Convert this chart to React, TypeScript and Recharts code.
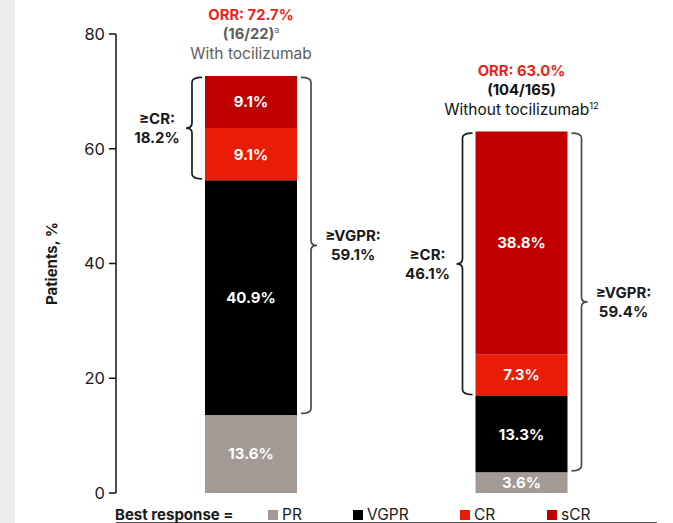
import { BarChart, Bar, XAxis, YAxis, LabelList, Rectangle } from 'recharts';

const groups = ['With tocilizumab', 'Without tocilizumab'];
const prValues = [13.6, 3.6];
const vgprValues = [40.9, 13.3];
const crValues = [9.1, 7.3];
const scrValues = [9.1, 38.8];
const orrLabels = ['ORR: 72.7%', 'ORR: 63.0%'];
const countLabels = ['(16/22)', '(104/165)'];
const countNotes = ['a', ''];
const groupNotes = ['', '12'];
const crTotals = ['18.2%', '46.1%'];
const vgprTotals = ['59.1%', '59.4%'];
const yTicks = [0, 20, 40, 60, 80];
const frameTicks = [0, 1, 2];
const legendLabels = ['PR', 'VGPR', 'CR', 'sCR'];

const COLORS = {
    pr: '#a39a95',
    vgpr: '#000000',
    cr: '#e91c07',
    scr: '#c00000',
};
const legendColors = [COLORS.pr, COLORS.vgpr, COLORS.cr, COLORS.scr];
const FONT = 'Inter, "Noto Sans", sans-serif';

const data = groups.map((group, i) => ({
    group,
    pr: prValues[i],
    vgpr: vgprValues[i],
    cr: crValues[i],
    scr: scrValues[i],
}));

// curly brace, dir -1 = tip points left, 1 = tip points right
const bracePath = (sx: number, y1: number, y2: number, dir: number) => {
    const hx = sx - dir * 10;
    const tx = sx + dir * 6;
    const r = 5;
    const ym = (y1 + y2) / 2;
    return `M${hx},${y1} Q${sx},${y1} ${sx},${y1 + r} L${sx},${ym - r} Q${sx},${ym} ${tx},${ym} Q${sx},${ym} ${sx},${ym + r} L${sx},${y2 - r} Q${sx},${y2} ${hx},${y2}`;
};

// top segment: draws the bar plus the headers and brackets for its column
function TopSegment(props: any) {
    const { x, y, width, height, fill, index, payload } = props;
    const row = payload;
    const total = row.pr + row.vgpr + row.cr + row.scr;
    const ppu = height / row.scr;
    const base = y + total * ppu;
    const yAt = (v: number) => base - v * ppu;

    const cx = x + width / 2;
    const crTop = yAt(total) + 1.5;
    const crBottom = yAt(row.pr + row.vgpr) - 1.5;
    const vTop = yAt(total) + 1.5;
    const vBottom = yAt(row.pr) - 1.5;
    const leftSpine = x - 13;
    const rightSpine = x + width + 14;
    const crMid = (crTop + crBottom) / 2;
    const vMid = (vTop + vBottom) / 2;
    const headColor = index === 0 ? '#5e5e5e' : '#111';

    return (
        <g>
            <Rectangle x={x} y={y} width={width} height={height} fill={fill} />
            <g fontFamily={FONT} textAnchor="middle" dominantBaseline="central">
                <text x={cx} y={y - 61} fontSize={14.8} fontWeight={700} fill="#e8251a">
                    {orrLabels[index]}
                </text>
                <text x={cx} y={y - 41.5} fontSize={14.8} fontWeight={700} fill={headColor}>
                    {countLabels[index]}
                    {countNotes[index] && (
                        <tspan fontSize={9} fontWeight={400} dy={-5}>{countNotes[index]}</tspan>
                    )}
                </text>
                <text x={cx} y={y - 22} fontSize={15.5} fill={headColor}>
                    {groups[index]}
                    {groupNotes[index] && (
                        <tspan fontSize={9.5} dy={-5}>{groupNotes[index]}</tspan>
                    )}
                </text>

                <text x={x - 48} y={crMid - 9.5} fontSize={15} fontWeight={700} fill="#1a1a1a">≥CR:</text>
                <text x={x - 48} y={crMid + 9.5} fontSize={15} fontWeight={700} fill="#1a1a1a">{crTotals[index]}</text>
                <text x={x + width + 56} y={vMid - 9.5} fontSize={15} fontWeight={700} fill="#1a1a1a">≥VGPR:</text>
                <text x={x + width + 56} y={vMid + 9.5} fontSize={15} fontWeight={700} fill="#1a1a1a">{vgprTotals[index]}</text>
            </g>
            <path d={bracePath(leftSpine, crTop, crBottom, -1)} fill="none" stroke="#1a1a1a" strokeWidth={1.7} />
            <path d={bracePath(rightSpine, vTop, vBottom, 1)} fill="none" stroke="#4a4a4a" strokeWidth={1.7} />
        </g>
    );
}

const segLabel = {
    position: 'center' as const,
    fill: '#ffffff',
    fontSize: 15,
    fontWeight: 700,
    fontFamily: FONT,
    formatter: (v: any) => `${Number(v).toFixed(1)}%`,
};

const legendLeft = [268, 353, 460, 547];

export default function App() {
    return (
        <div style={{ position: 'absolute', left: 0, top: 0, width: 673, height: 523, background: '#fff', overflow: 'hidden' }}>
            <div style={{ position: 'absolute', left: 0, top: 0, width: 15, height: 523, background: '#efeeec' }} />
            <BarChart
                width={673}
                height={523}
                data={data}
                margin={{ top: 34, right: 16, left: 36, bottom: 20 }}
                barSize={92}
            >
                <XAxis dataKey="group" hide />
                <XAxis
                    xAxisId="frame"
                    type="number"
                    domain={[0, 2]}
                    ticks={frameTicks}
                    height={10}
                    stroke="#111"
                    strokeWidth={1.5}
                    tickSize={7}
                    tickFormatter={() => ''}
                    allowDataOverflow
                />
                <YAxis
                    domain={[0, 80]}
                    ticks={yTicks}
                    width={80}
                    stroke="#111"
                    strokeWidth={1.5}
                    tickSize={7}
                    tickMargin={4}
                    tick={{ fill: '#1a1a1a', fontSize: 16.5, fontFamily: FONT }}
                    label={{
                        value: 'Patients, %',
                        angle: -90,
                        position: 'insideLeft',
                        offset: 16,
                        style: { textAnchor: 'middle', fontSize: 15, fontWeight: 700, fill: '#1a1a1a', fontFamily: FONT },
                    }}
                />
                <Bar dataKey="pr" stackId="a" fill={COLORS.pr} isAnimationActive={false}>
                    <LabelList dataKey="pr" {...segLabel} />
                </Bar>
                <Bar dataKey="vgpr" stackId="a" fill={COLORS.vgpr} isAnimationActive={false}>
                    <LabelList dataKey="vgpr" {...segLabel} />
                </Bar>
                <Bar dataKey="cr" stackId="a" fill={COLORS.cr} isAnimationActive={false}>
                    <LabelList dataKey="cr" {...segLabel} />
                </Bar>
                <Bar dataKey="scr" stackId="a" fill={COLORS.scr} isAnimationActive={false} shape={TopSegment}>
                    <LabelList dataKey="scr" {...segLabel} />
                </Bar>
            </BarChart>
            <div style={{ position: 'absolute', top: 506, left: 115, fontFamily: FONT, fontSize: 15, fontWeight: 700, color: '#1a1a1a', lineHeight: '18px' }}>
                Best response =
            </div>
            {legendLabels.map((name, i) => (
                <div
                    key={name}
                    style={{ position: 'absolute', top: 506, left: legendLeft[i], display: 'flex', alignItems: 'center', fontFamily: FONT, fontSize: 15.5, color: '#1a1a1a', lineHeight: '18px' }}
                >
                    <span style={{ display: 'inline-block', width: 10, height: 10, background: legendColors[i], marginRight: 4 }} />
                    {name}
                </div>
            ))}
        </div>
    );
}
